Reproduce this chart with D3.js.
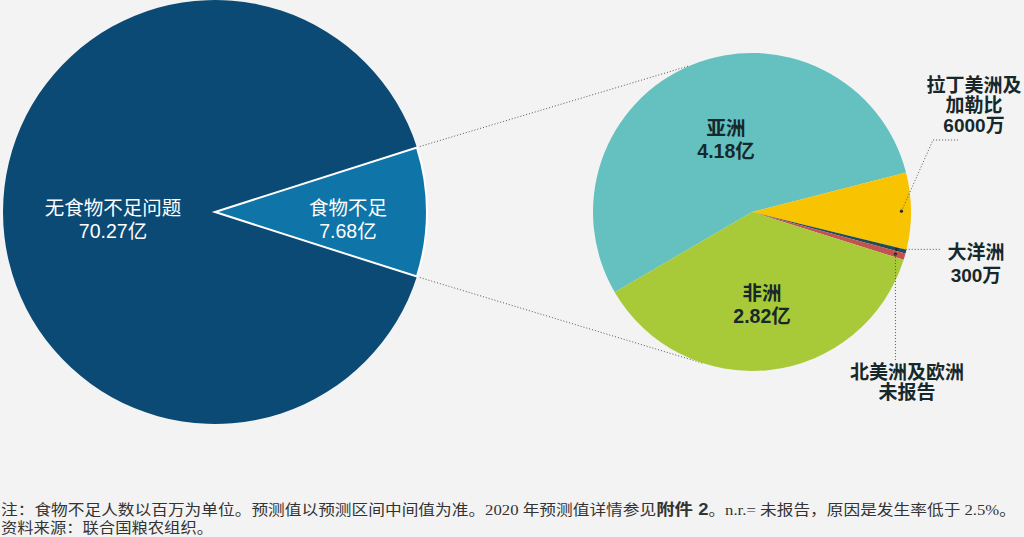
<!DOCTYPE html>
<html>
<head>
<meta charset="utf-8">
<script src="https://cdn.jsdelivr.net/npm/d3@7"></script>
<style>
  body { margin: 0; background: #f3f3f3; }
  svg { display: block; }
  .lbl { font-family: "Liberation Sans", "Noto Sans CJK SC", sans-serif; text-anchor: middle; }
</style>
</head>
<body>
<svg id="chart" width="1024" height="537"></svg>
<script>
// world population split (millions)
const worldNames = ["食物不足", "无食物不足问题"];
const worldValues = [768, 7027];
const worldValueLabels = ["7.68亿", "70.27亿"];
const worldColors = ["#0f75a8", "#0b4a75"];

// undernourished by region (millions)
const regionNames = ["亚洲", "拉丁美洲及加勒比", "大洋洲", "北美洲及欧洲", "非洲"];
const regionValues = [418, 60, 3, 5, 282];
const regionColors = ["#64c1bf", "#f8c300", "#1e4c5a", "#c4524e", "#a8ca38"];

const footNote = ["注：食物不足人数以百万为单位。预测值以预测区间中间值为准。2020 年预测值详情参见", "附件 2", "。n.r.= 未报告，原因是发生率低于 2.5%。"];
const footSource = "资料来源：联合国粮农组织。";

const svg = d3.select("#chart");
const deg = Math.PI / 180;

// ---- big pie
const bigC = [215, 212], bigR = 212;
const foodAngle = worldValues[0] / d3.sum(worldValues) * 2 * Math.PI;
const bigPie = d3.pie().sort(null)
  .startAngle(Math.PI / 2 - foodAngle / 2)
  .endAngle(Math.PI / 2 - foodAngle / 2 + 2 * Math.PI);
const bigArc = d3.arc().innerRadius(0).outerRadius(bigR);
const bigArcs = bigPie(worldValues);

// ---- small pie
const smC = [752, 212], smR = 159;
const smStart = -120.3 * deg;
const smPie = d3.pie().sort(null).startAngle(smStart).endAngle(smStart + 2 * Math.PI);
const smArc = d3.arc().innerRadius(0).outerRadius(smR);
const smArcs = smPie(regionValues);

// dotted connectors: food slice edges -> points on small pie
const edgePt = (c, r, a) => [c[0] + r * Math.sin(a), c[1] - r * Math.cos(a)];
const conn = [
  [edgePt(bigC, bigR + 3, bigArcs[0].startAngle), edgePt(smC, smR, -23 * deg)],
  [edgePt(bigC, bigR + 3, bigArcs[0].endAngle), edgePt(smC, smR, 198 * deg)]
];
svg.selectAll("line.conn").data(conn).enter().append("line")
  .attr("class", "conn")
  .attr("x1", d => d[0][0]).attr("y1", d => d[0][1])
  .attr("x2", d => d[1][0]).attr("y2", d => d[1][1])
  .attr("stroke", "#555").attr("stroke-width", 1).attr("stroke-dasharray", "1,2");

const gBig = svg.append("g").attr("transform", `translate(${bigC})`);
gBig.selectAll("path").data(bigArcs.slice().reverse()).enter().append("path")
  .attr("d", bigArc)
  .attr("fill", d => worldColors[d.index])
  .attr("stroke", d => d.index === 0 ? "#fff" : "none")
  .attr("stroke-width", 2)
  .attr("stroke-linejoin", "miter");

// labels in big pie
const bigLblPos = [[133, 3], [-102, 3]];
bigArcs.forEach((d, i) => {
  const t = gBig.append("text").attr("class", "lbl")
    .attr("fill", "#fff").attr("font-size", 19.5);
  t.append("tspan").attr("x", bigLblPos[i][0]).attr("y", bigLblPos[i][1]).text(worldNames[i]);
  t.append("tspan").attr("x", bigLblPos[i][0]).attr("y", bigLblPos[i][1] + 23).text(worldValueLabels[i]);
});

const gSm = svg.append("g").attr("transform", `translate(${smC})`);
gSm.selectAll("path").data(smArcs).enter().append("path")
  .attr("d", smArc)
  .attr("fill", d => regionColors[d.index]);

// inner labels: Asia and Africa
const innerLbl = [
  { i: 0, x: -26, y: -77, v: "4.18亿" },
  { i: 4, x: 10, y: 88, v: "2.82亿" }
];
innerLbl.forEach(o => {
  const t = gSm.append("text").attr("class", "lbl")
    .attr("fill", "#16282a").attr("font-size", 19.5).attr("font-weight", 600);
  t.append("tspan").attr("x", o.x).attr("y", o.y).text(regionNames[o.i]);
  t.append("tspan").attr("x", o.x).attr("y", o.y + 23).text(o.v);
});

// outer labels with leaders
const dotArc = d3.arc().innerRadius(smR * 0.94).outerRadius(smR * 0.94);
const outer = [
  { i: 1, lines: ["拉丁美洲及", "加勒比", "6000万"], x: 222, y: -120, lh: 20,
    leader: p => [p, [181, -72], [206, -72]] },
  { i: 2, lines: ["大洋洲", "300万"], x: 224, y: 47, lh: 23,
    leader: p => [p, [188, p[1]]] },
  { i: 3, lines: ["北美洲及欧洲", "未报告"], x: 155, y: 167, lh: 20,
    leader: p => [p, [p[0], 148]] }
];
outer.forEach(o => {
  const p = dotArc.centroid(smArcs[o.i]);
  gSm.append("circle").attr("cx", p[0]).attr("cy", p[1]).attr("r", 1.6).attr("fill", "#222");
  gSm.append("path").attr("d", d3.line()(o.leader(p)))
    .attr("fill", "none").attr("stroke", "#555").attr("stroke-width", 1).attr("stroke-dasharray", "1,2");
  const t = gSm.append("text").attr("class", "lbl")
    .attr("fill", "#16282a").attr("font-size", 19).attr("font-weight", 600);
  o.lines.forEach((s, k) => t.append("tspan").attr("x", o.x).attr("y", o.y + k * o.lh).text(s));
});

// footer
const f1 = svg.append("text").attr("x", 1).attr("y", 515)
  .attr("font-family", "'Liberation Serif', 'Noto Sans CJK SC', serif")
  .attr("font-size", 14.5).attr("fill", "#333")
  .attr("textLength", 1015).attr("lengthAdjust", "spacingAndGlyphs");
f1.append("tspan").text(footNote[0]);
f1.append("tspan").attr("font-family", "'Liberation Sans', 'Noto Sans CJK SC', sans-serif")
  .attr("font-weight", "bold").attr("font-size", 16).text(footNote[1]);
f1.append("tspan").text(footNote[2]);

svg.append("text").attr("x", 1).attr("y", 533)
  .attr("font-family", "'Liberation Serif', 'Noto Sans CJK SC', serif")
  .attr("font-size", 14.5).attr("fill", "#333")
  .attr("textLength", 212).attr("lengthAdjust", "spacingAndGlyphs")
  .text(footSource);
</script>
</body>
</html>
